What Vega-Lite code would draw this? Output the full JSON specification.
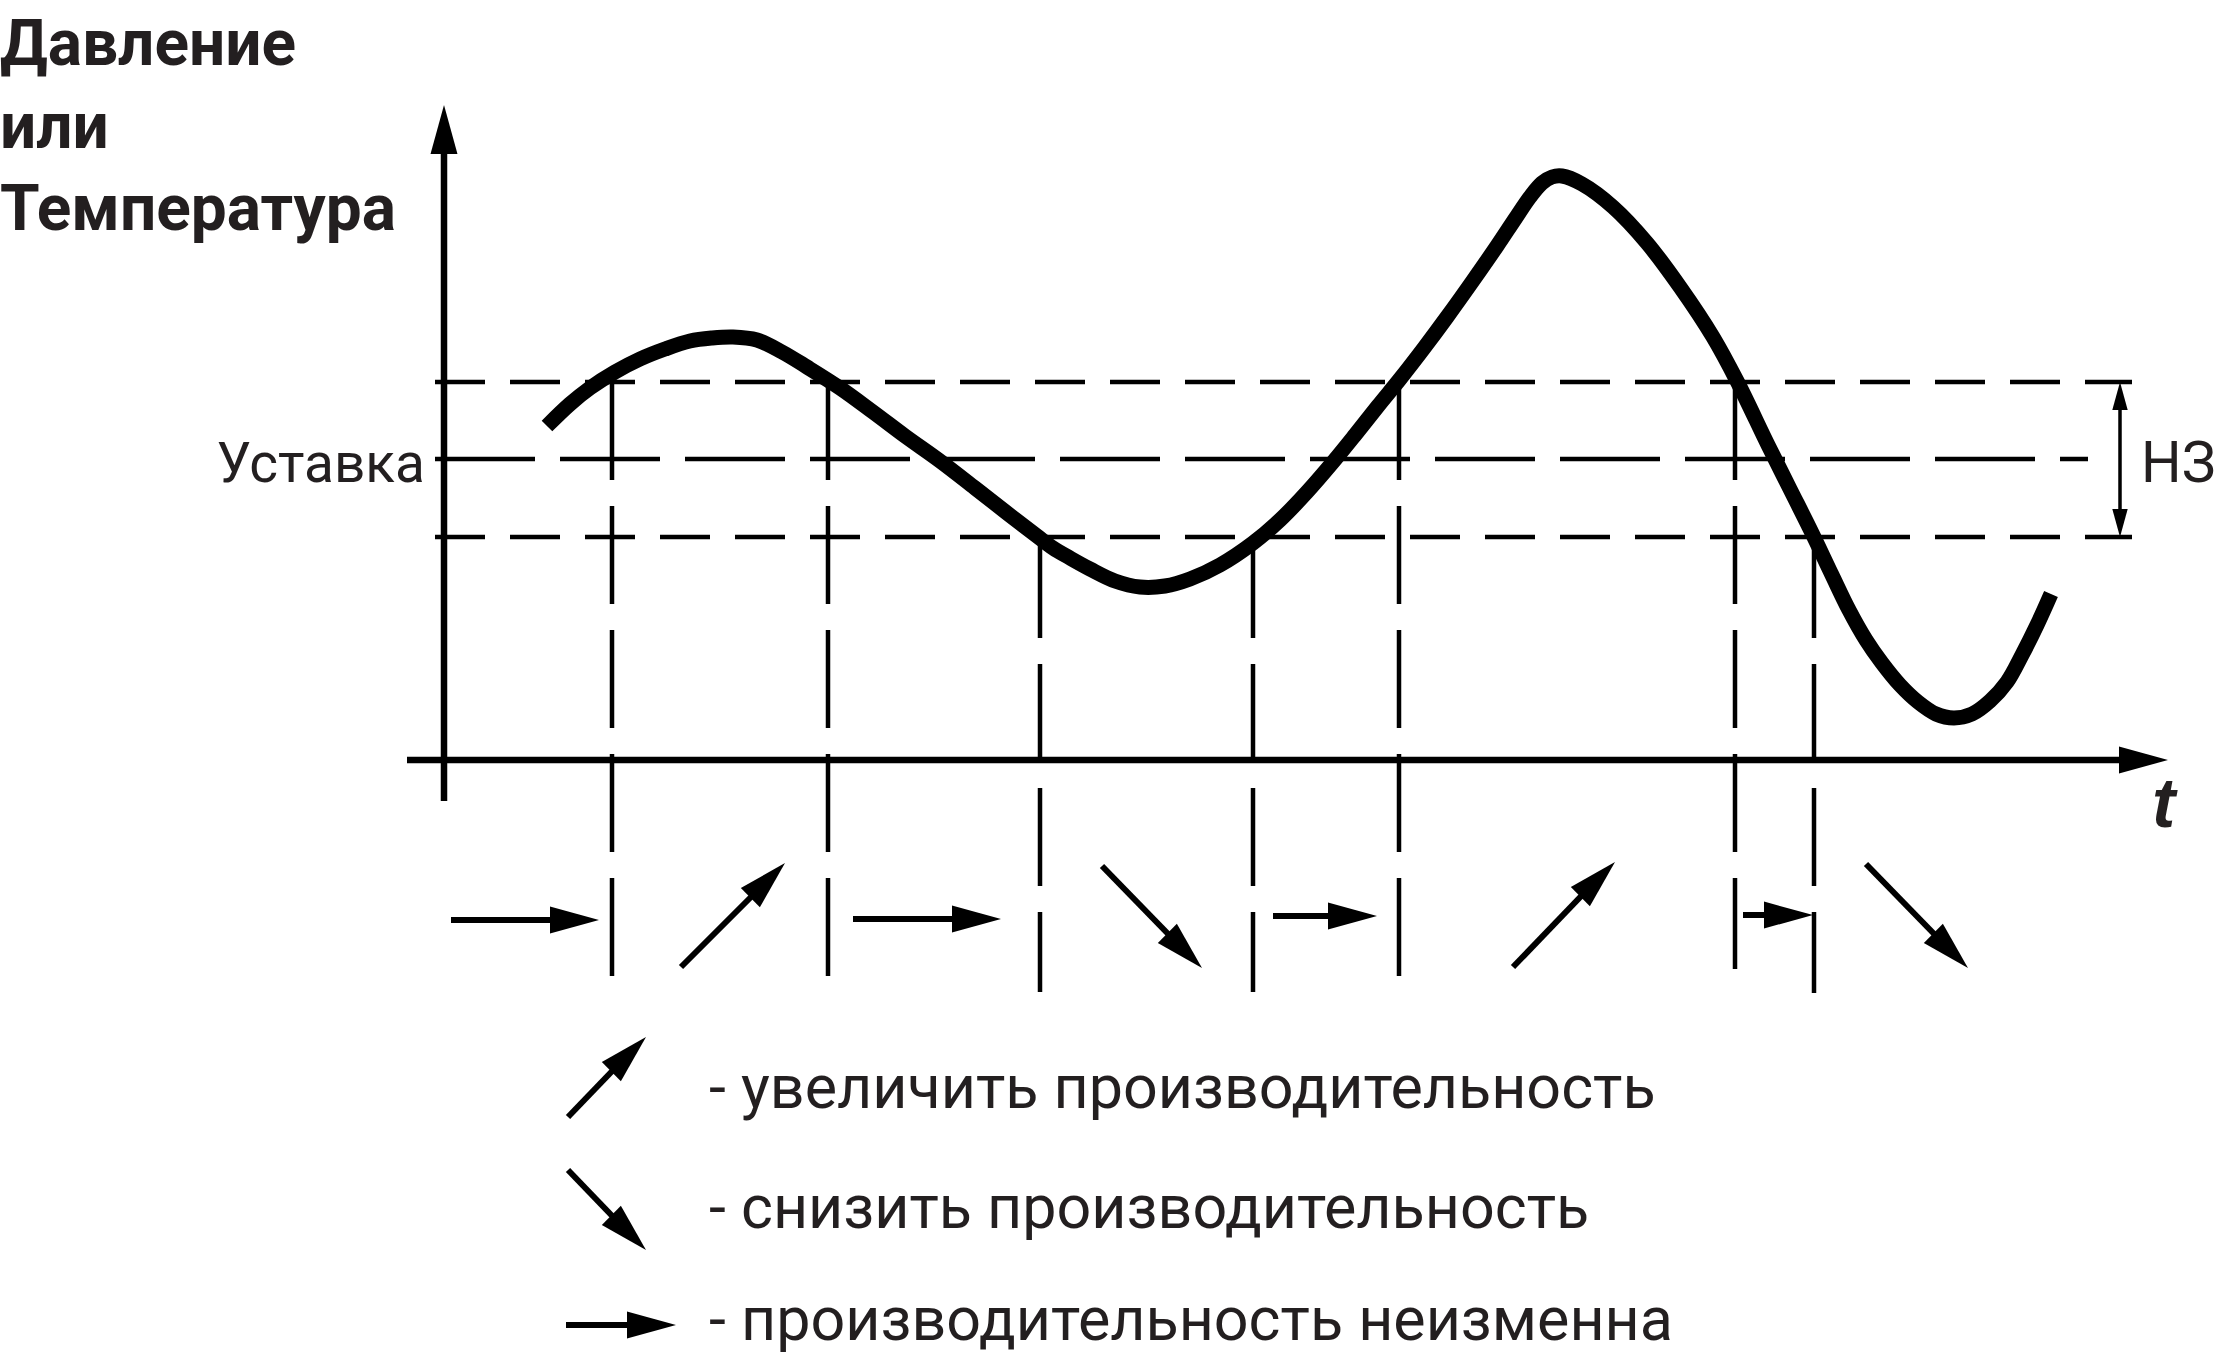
{
  "$schema": "https://vega.github.io/schema/vega-lite/v6.json",
  "width": 2223,
  "height": 1365,
  "autosize": {"type": "none"},
  "padding": 0,
  "background": "#ffffff",
  "config": {"view": {"stroke": null}},
  "datasets": {
    "levels": [
      {"line": "upper", "x": 435, "x2": 2132, "y": 382},
      {"line": "lower", "x": 435, "x2": 2132, "y": 537}
    ],
    "setpoint": [{"x": 435, "x2": 2088, "y": 459}],
    "switches": [
      {"x": 612, "y": 382, "y2": 978},
      {"x": 828, "y": 382, "y2": 978},
      {"x": 1040, "y": 540, "y2": 992},
      {"x": 1253, "y": 540, "y2": 992},
      {"x": 1399, "y": 382, "y2": 978},
      {"x": 1735, "y": 382, "y2": 969},
      {"x": 1814, "y": 540, "y2": 993}
    ],
    "signal": [
      {"x": 547, "y": 426}, {"x": 570, "y": 404}, {"x": 590, "y": 388}, {"x": 615, "y": 372},
      {"x": 640, "y": 359}, {"x": 665, "y": 349}, {"x": 690, "y": 341}, {"x": 712, "y": 338},
      {"x": 733, "y": 337}, {"x": 757, "y": 340}, {"x": 782, "y": 352}, {"x": 807, "y": 367},
      {"x": 840, "y": 388}, {"x": 873, "y": 412}, {"x": 905, "y": 436}, {"x": 940, "y": 461},
      {"x": 975, "y": 488}, {"x": 1007, "y": 513}, {"x": 1037, "y": 536}, {"x": 1053, "y": 548},
      {"x": 1070, "y": 558}, {"x": 1090, "y": 569}, {"x": 1115, "y": 581}, {"x": 1140, "y": 587},
      {"x": 1165, "y": 586}, {"x": 1190, "y": 579}, {"x": 1220, "y": 565}, {"x": 1253, "y": 543},
      {"x": 1280, "y": 520}, {"x": 1307, "y": 492}, {"x": 1333, "y": 462}, {"x": 1355, "y": 435},
      {"x": 1378, "y": 406}, {"x": 1400, "y": 379}, {"x": 1424, "y": 348}, {"x": 1447, "y": 317},
      {"x": 1472, "y": 282}, {"x": 1497, "y": 246}, {"x": 1515, "y": 219}, {"x": 1530, "y": 197},
      {"x": 1542, "y": 183}, {"x": 1552, "y": 177}, {"x": 1562, "y": 176}, {"x": 1582, "y": 184},
      {"x": 1613, "y": 207}, {"x": 1647, "y": 243}, {"x": 1680, "y": 287}, {"x": 1713, "y": 337},
      {"x": 1737, "y": 381}, {"x": 1768, "y": 445}, {"x": 1790, "y": 489}, {"x": 1812, "y": 533},
      {"x": 1832, "y": 575}, {"x": 1849, "y": 610}, {"x": 1866, "y": 640}, {"x": 1882, "y": 663},
      {"x": 1900, "y": 685}, {"x": 1918, "y": 702}, {"x": 1936, "y": 714}, {"x": 1954, "y": 718},
      {"x": 1972, "y": 714}, {"x": 1990, "y": 701}, {"x": 2007, "y": 682}, {"x": 2022, "y": 655},
      {"x": 2037, "y": 625}, {"x": 2051, "y": 594}
    ],
    "axes": [
      {"axis": "value", "x": 444, "y": 801, "x2": 444, "y2": 140},
      {"axis": "time", "x": 407, "y": 760, "x2": 2130, "y2": 760}
    ],
    "arrows": [
      {"action": "hold", "x": 451, "y": 920, "x2": 560, "y2": 920},
      {"action": "raise", "x": 681, "y": 967, "x2": 757, "y2": 891},
      {"action": "hold", "x": 853, "y": 919, "x2": 962, "y2": 919},
      {"action": "lower", "x": 1102, "y": 866, "x2": 1174, "y2": 940},
      {"action": "hold", "x": 1273, "y": 916, "x2": 1338, "y2": 916},
      {"action": "raise", "x": 1513, "y": 967, "x2": 1587, "y2": 890},
      {"action": "hold", "x": 1743, "y": 915, "x2": 1774, "y2": 915},
      {"action": "lower", "x": 1866, "y": 864, "x2": 1940, "y2": 940},
      {"action": "raise", "x": 568, "y": 1117, "x2": 618, "y2": 1065},
      {"action": "lower", "x": 568, "y": 1170, "x2": 618, "y2": 1222},
      {"action": "hold", "x": 566, "y": 1325, "x2": 640, "y2": 1325}
    ],
    "heads": [
      {"x": 444, "y": 105, "heading": 0},
      {"x": 2168, "y": 760, "heading": 90},
      {"x": 599, "y": 920, "heading": 90},
      {"x": 785, "y": 863, "heading": 45},
      {"x": 1001, "y": 919, "heading": 90},
      {"x": 1202, "y": 968, "heading": 135},
      {"x": 1377, "y": 916, "heading": 90},
      {"x": 1615, "y": 862, "heading": 45},
      {"x": 1813, "y": 915, "heading": 90},
      {"x": 1968, "y": 968, "heading": 135},
      {"x": 646, "y": 1037, "heading": 45},
      {"x": 646, "y": 1250, "heading": 135},
      {"x": 676, "y": 1325, "heading": 90}
    ],
    "deadband": [{"x": 2120, "y": 400, "y2": 520}],
    "deadbandHeads": [
      {"x": 2120, "y": 382, "heading": 0},
      {"x": 2120, "y": 537, "heading": 180}
    ],
    "title": [
      {"x": 0, "y": 65, "text": "Давление"},
      {"x": 0, "y": 148, "text": "или"},
      {"x": 0, "y": 230, "text": "Температура"}
    ],
    "setpointLabel": [{"x": 425, "y": 482, "text": "Уставка"}],
    "deadbandLabel": [{"x": 2141, "y": 482, "text": "НЗ"}],
    "timeLabel": [{"x": 2152, "y": 827, "text": "t"}],
    "legend": [
      {"x": 709, "y": 1108, "text": "- увеличить производительность"},
      {"x": 709, "y": 1228, "text": "- снизить производительность"},
      {"x": 709, "y": 1340, "text": "- производительность неизменна"}
    ]
  },
  "encoding": {
    "x": {"field": "x", "type": "quantitative", "scale": {"domain": [0, 2223], "nice": false, "zero": false}, "axis": null},
    "y": {"field": "y", "type": "quantitative", "scale": {"domain": [0, 1365], "reverse": true, "nice": false, "zero": false}, "axis": null}
  },
  "layer": [
    {
      "data": {"name": "levels"},
      "mark": {"type": "rule", "color": "#000000", "strokeWidth": 4.5, "strokeDash": [50, 25], "strokeCap": "butt"},
      "encoding": {"x2": {"field": "x2"}}
    },
    {
      "data": {"name": "setpoint"},
      "mark": {"type": "rule", "color": "#000000", "strokeWidth": 4.5, "strokeDash": [100, 25], "strokeCap": "butt"},
      "encoding": {"x2": {"field": "x2"}}
    },
    {
      "data": {"name": "switches"},
      "mark": {"type": "rule", "color": "#000000", "strokeWidth": 4.5, "strokeDash": [98, 26], "strokeCap": "butt"},
      "encoding": {"y2": {"field": "y2"}}
    },
    {
      "data": {"name": "axes"},
      "mark": {"type": "rule", "color": "#000000", "strokeWidth": 6.5, "strokeCap": "butt"},
      "encoding": {"x2": {"field": "x2"}, "y2": {"field": "y2"}}
    },
    {
      "data": {"name": "signal"},
      "mark": {"type": "line", "color": "#000000", "strokeWidth": 15, "strokeCap": "butt", "strokeJoin": "round", "interpolate": "catmull-rom"},
      "encoding": {}
    },
    {
      "data": {"name": "arrows"},
      "mark": {"type": "rule", "color": "#000000", "strokeWidth": 6, "strokeCap": "butt"},
      "encoding": {"x2": {"field": "x2"}, "y2": {"field": "y2"}}
    },
    {
      "data": {"name": "heads"},
      "mark": {"type": "point", "shape": "M0,0L0.55,2L-0.55,2Z", "size": 2401, "filled": true, "color": "#000000", "opacity": 1, "strokeWidth": 0},
      "encoding": {"angle": {"field": "heading", "type": "quantitative", "scale": {"domain": [0, 360], "range": [0, 360]}, "legend": null}}
    },
    {
      "data": {"name": "deadband"},
      "mark": {"type": "rule", "color": "#000000", "strokeWidth": 3.5, "strokeCap": "butt"},
      "encoding": {"y2": {"field": "y2"}}
    },
    {
      "data": {"name": "deadbandHeads"},
      "mark": {"type": "point", "shape": "M0,0L0.55,2L-0.55,2Z", "size": 784, "filled": true, "color": "#000000", "opacity": 1, "strokeWidth": 0},
      "encoding": {"angle": {"field": "heading", "type": "quantitative", "scale": {"domain": [0, 360], "range": [0, 360]}, "legend": null}}
    },
    {
      "data": {"name": "title"},
      "mark": {"type": "text", "align": "left", "baseline": "alphabetic", "font": "Roboto, sans-serif", "fontWeight": "bold", "fontSize": 64, "color": "#231f20"},
      "encoding": {"text": {"field": "text"}}
    },
    {
      "data": {"name": "setpointLabel"},
      "mark": {"type": "text", "align": "right", "baseline": "alphabetic", "font": "Roboto, sans-serif", "fontSize": 55, "color": "#231f20"},
      "encoding": {"text": {"field": "text"}}
    },
    {
      "data": {"name": "deadbandLabel"},
      "mark": {"type": "text", "align": "left", "baseline": "alphabetic", "font": "Roboto, sans-serif", "fontSize": 57, "color": "#231f20"},
      "encoding": {"text": {"field": "text"}}
    },
    {
      "data": {"name": "timeLabel"},
      "mark": {"type": "text", "align": "left", "baseline": "alphabetic", "font": "Liberation Sans, sans-serif", "fontWeight": "bold", "fontStyle": "italic", "fontSize": 70, "color": "#231f20"},
      "encoding": {"text": {"field": "text"}}
    },
    {
      "data": {"name": "legend"},
      "mark": {"type": "text", "align": "left", "baseline": "alphabetic", "font": "Roboto, sans-serif", "fontSize": 61, "color": "#231f20"},
      "encoding": {"text": {"field": "text"}}
    }
  ]
}
